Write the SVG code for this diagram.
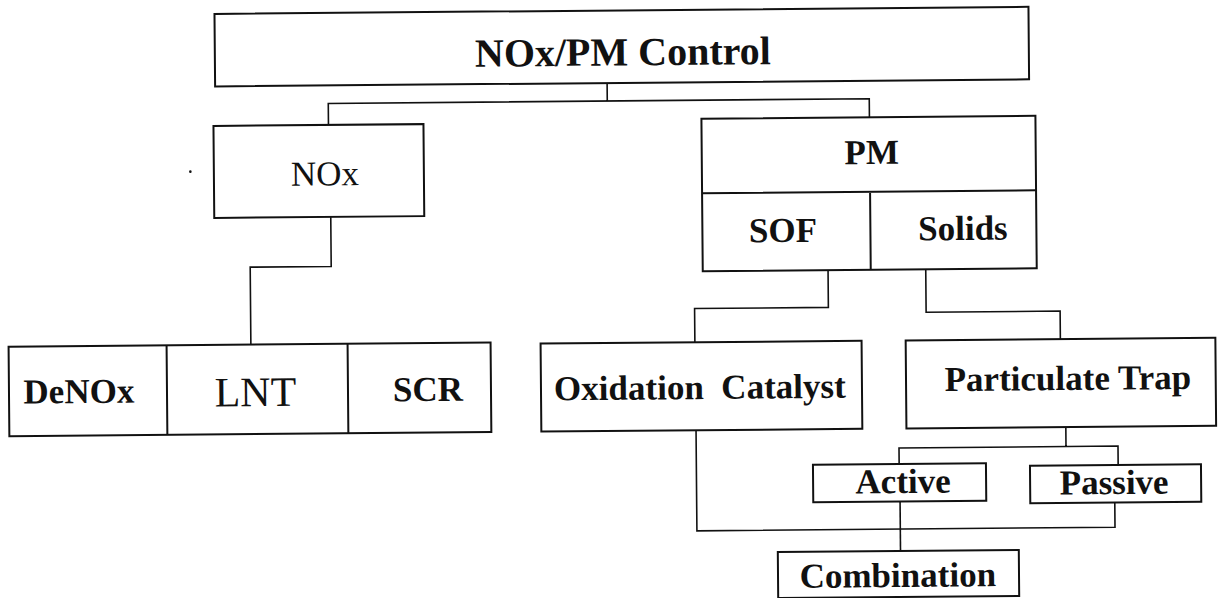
<svg xmlns="http://www.w3.org/2000/svg" width="1221" height="598" viewBox="0 0 1221 598">
<style>
.box{fill:#fff;stroke:#111;stroke-width:2}
.div{stroke:#111;stroke-width:2;fill:none}
.con{fill:none;stroke:#111;stroke-width:1.6}
text{font-family:"Liberation Serif","Times New Roman",serif;fill:#111;text-anchor:middle}
.b{font-weight:bold;font-size:35px}
.r{font-weight:normal}
</style>
<rect width="1221" height="598" fill="#fff"/>
<g transform="rotate(-0.5 610 300)">
<g id="connectors">
<path class="con" d="M609,83 V101 M330,122.5 V101 H871 V119.5"/>
<path class="con" d="M331.5,214.5 V264 H250.5 V341.5"/>
<path class="con" d="M828.3,272 V309.3 H694.5 V343"/>
<path class="con" d="M926,272 V315 H1060 V343"/>
<path class="con" d="M1064.7,431 V450.5 M897.7,466.5 V450.5 H1116.7 V469.5"/>
<path class="con" d="M694.9,431 V531.6 H1113 V507"/>
<path class="con" d="M898.3,504 V553.5"/>
</g>
<g id="n-control">
<rect class="box" x="217" y="10.5" width="814" height="72.5"/>
<text class="b" x="625" y="65.5" style="font-size:40px">NOx/PM Control</text>
</g>
<g id="n-nox">
<rect class="box" x="215" y="122.5" width="210" height="92"/>
<text class="r" x="326" y="183" style="font-size:35px">NOx</text>
</g>
<g id="n-pm">
<rect class="box" x="703" y="119.5" width="334" height="152.5"/>
<path class="div" d="M703,194 H1037 M871,194 V272"/>
<text class="b" x="873" y="166.3">PM</text>
<text class="b" x="783.5" y="243.5">SOF</text>
<text class="b" x="963.5" y="243">Solids</text>
</g>
<g id="n-nox-methods">
<rect class="box" x="8.2" y="341.5" width="482" height="89.5"/>
<path class="div" d="M166.2,341.5 V431 M347.2,341.5 V431"/>
<text class="b" x="78.1" y="398.4">DeNOx</text>
<text class="r" x="254.6" y="403" style="font-size:42px">LNT</text>
<text class="b" x="427.1" y="399.4">SCR</text>
</g>
<g id="n-oxcat">
<rect class="box" x="540.2" y="343" width="321" height="88"/>
<text class="b" x="699.1" y="399.8" style="white-space:pre">Oxidation  Catalyst</text>
</g>
<g id="n-trap">
<rect class="box" x="905.3" y="343" width="309.7" height="88"/>
<text class="b" x="1067.2" y="394">Particulate Trap</text>
</g>
<g id="n-active">
<rect class="box" x="811.5" y="466.5" width="173" height="37.5"/>
<text class="b" x="901.5" y="495.6">Active</text>
</g>
<g id="n-passive">
<rect class="box" x="1028.5" y="469.5" width="171" height="37.5"/>
<text class="b" x="1112.5" y="498.4">Passive</text>
</g>
<g id="n-combination">
<rect class="box" x="775.6" y="553.5" width="241" height="46"/>
<text class="b" x="895.4" y="589.5">Combination</text>
</g>
<circle cx="191.5" cy="168" r="1.3" fill="#111"/>
</g>
</svg>
